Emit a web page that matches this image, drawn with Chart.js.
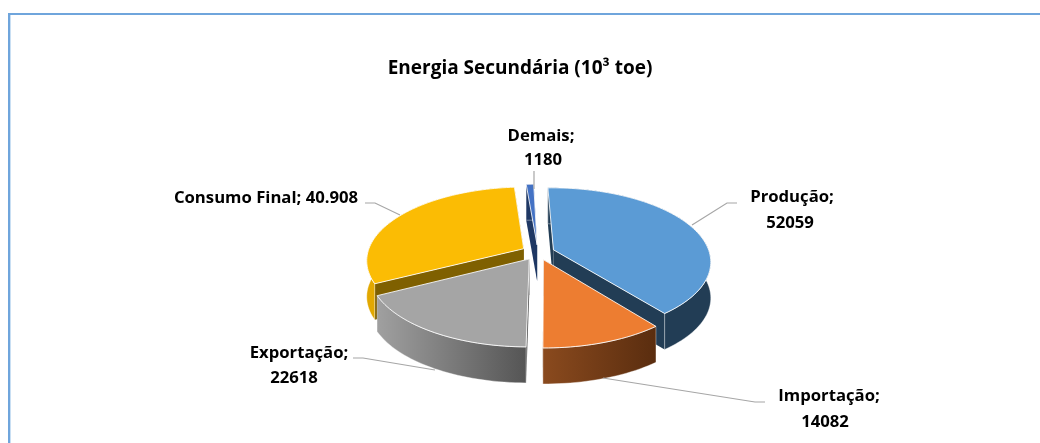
<!DOCTYPE html>
<html>
<head>
<meta charset="utf-8">
<style>
	body { margin: 0; background: #fff; }
	#wrap { width: 1040px; height: 443px; }
</style>
</head>
<body>
<div id="wrap"><canvas id="pieChart" width="1040" height="443"></canvas></div>
<script src="https://cdn.jsdelivr.net/npm/chart.js@4"></script>
<script>
// data
const categories = ['Produção', 'Importação', 'Exportação', 'Consumo Final', 'Demais'];
const values = [52059, 14082, 22618, 40908, 1180];
const valueLabels = ['52059', '14082', '22618', '40.908', '1180'];

// slice colours: top face, side wall gradient (left, right), cut face
const topColors = ['#5B9BD5', '#ED7D31', '#A5A5A5', '#FBBC04', '#4472C4'];
const wallLeft = ['#223D55', '#8A4A1E', '#A0A0A0', '#E2A800', '#1F3864'];
const wallRight = ['#223D55', '#5A2D0F', '#555555', '#DFA500', '#1F3864'];
const cutColors = ['#223D55', '#5A2D0F', '#555555', '#7F6000', '#1F3864'];

// painter's order, back slices first
const drawOrder = [0, 3, 4, 1, 2];

// label placement: text line centres and leader polyline for each slice
const labelLayout = [
	{ x: [792, 790], y: [197, 223], line: [[692, 225], [727, 203], [737, 203]] },
	{ x: [829, 825], y: [396, 422], line: [[603, 378], [755, 402], [765, 402]] },
	{ x: [299, 294], y: [353, 378], line: [[353, 358], [363, 358], [435, 370]] },
	{ x: [266], y: [198], line: [[365, 203], [375, 203], [400, 215]] },
	{ x: [541, 543], y: [136, 160], line: [[534, 171], [534, 189]] }
];

const TILT = 0.463; // vertical squash of the disc
const PERSP = 0.153; // front of the disc looks bigger than the back
const DEPTH = 36;
const SHIFT_X = 18; // the disc sits right of the centred title

// disc coordinates to screen
function project(el, off, u, v) {
	const d = 1 - PERSP * (v + off.v);
	const R = el.outerRadius;
	return [el.x + SHIFT_X + (R * (u + off.u)) / d, el.y + (R * TILT * (v + off.v)) / d];
}

function slicePoints(el, off) {
	const pts = [];
	const steps = Math.max(4, Math.ceil((el.endAngle - el.startAngle) / 0.03));
	for (let i = 0; i <= steps; i++) {
		const a = el.startAngle + ((el.endAngle - el.startAngle) * i) / steps + Math.PI / 2;
		pts.push(project(el, off, Math.sin(a), -Math.cos(a)));
	}
	return pts;
}

// top edge plus the same edge pushed down by the disc depth
function wallPath(ctx, pts) {
	ctx.beginPath();
	pts.forEach((p, k) => (k ? ctx.lineTo(p[0], p[1]) : ctx.moveTo(p[0], p[1])));
	for (let k = pts.length - 1; k >= 0; k--) {
		ctx.lineTo(pts[k][0], pts[k][1] + DEPTH);
	}
	ctx.closePath();
}

// draws the chart's own arc elements as a tilted exploded disc
const tiltedPie = {
	id: 'tiltedPie',
	beforeDatasetDraw() {
		return false;
	},
	afterDatasetsDraw(chart) {
		const ctx = chart.ctx;
		const arcs = chart.getDatasetMeta(0).data;
		ctx.save();
		drawOrder.forEach((i) => {
			const el = arcs[i];
			const mid = (el.startAngle + el.endAngle) / 2 + Math.PI / 2;
			const e = el.options.offset / el.outerRadius;
			const off = { u: e * Math.sin(mid), v: -e * Math.cos(mid) };
			const pts = slicePoints(el, off);
			const apex = project(el, off, 0, 0);
			const xs = pts.map((p) => p[0]);
			const grad = ctx.createLinearGradient(Math.min(...xs), 0, Math.max(...xs), 0);
			grad.addColorStop(0, wallLeft[i]);
			grad.addColorStop(1, wallRight[i]);

			ctx.fillStyle = cutColors[i];
			wallPath(ctx, [apex, pts[0]]);
			ctx.fill();
			wallPath(ctx, [apex, pts[pts.length - 1]]);
			ctx.fill();
			wallPath(ctx, pts);
			ctx.fillStyle = grad;
			ctx.fill();
			ctx.strokeStyle = 'rgba(255,255,255,0.55)';
			ctx.lineWidth = 0.7;
			ctx.stroke();

			ctx.beginPath();
			ctx.moveTo(apex[0], apex[1]);
			pts.forEach((p) => ctx.lineTo(p[0], p[1]));
			ctx.closePath();
			ctx.fillStyle = topColors[i];
			ctx.fill();
			ctx.strokeStyle = 'rgba(255,255,255,0.85)';
			ctx.lineWidth = 1;
			ctx.stroke();
		});
		ctx.restore();
	}
};

// frame, leader lines and data labels
const decorations = {
	id: 'decorations',
	beforeDraw(chart) {
		const ctx = chart.ctx;
		ctx.save();
		ctx.fillStyle = '#C9DFF3';
		ctx.fillRect(10, 15, 1, 428);
		ctx.fillStyle = '#6FA5DC';
		ctx.fillRect(8, 13, 1032, 2);
		ctx.fillRect(8, 13, 2, 430);
		ctx.restore();
	},
	afterDraw(chart) {
		const ctx = chart.ctx;
		ctx.save();
		ctx.strokeStyle = '#A6A6A6';
		ctx.lineWidth = 1.2;
		ctx.fillStyle = '#000';
		ctx.font = 'bold 16.7px "Open Sans"';
		ctx.textBaseline = 'middle';
		ctx.textAlign = 'center';
		labelLayout.forEach((lab, i) => {
			ctx.beginPath();
			lab.line.forEach((p, k) => (k ? ctx.lineTo(p[0], p[1]) : ctx.moveTo(p[0], p[1])));
			ctx.stroke();
			const text = categories[i] + ';';
			if (lab.y.length === 1) {
				ctx.fillText(text + ' ' + valueLabels[i], lab.x[0], lab.y[0]);
			} else {
				ctx.fillText(text, lab.x[0], lab.y[0]);
				ctx.fillText(valueLabels[i], lab.x[1], lab.y[1]);
			}
		});
		ctx.restore();
	}
};

const myChart = new Chart(document.getElementById('pieChart').getContext('2d'), {
	type: 'pie',
	data: {
		labels: categories,
		datasets: [
			{
				label: 'Energia Secundária',
				data: values,
				backgroundColor: topColors,
				offset: 16.5,
				borderWidth: 0
			}
		]
	},
	options: {
		responsive: false,
		animation: false,
		radius: 156,
		rotation: -1.5,
		layout: { padding: { left: 0, right: 0, top: 0, bottom: 24 } },
		plugins: {
			legend: { display: false },
			tooltip: { enabled: false },
			title: {
				display: true,
				text: 'Energia Secundária (10³ toe)',
				color: '#000',
				font: { family: 'Open Sans', size: 19, weight: 'bold' },
				padding: { top: 57, bottom: 6 }
			}
		}
	},
	plugins: [decorations, tiltedPie]
});
</script>
</body>
</html>
